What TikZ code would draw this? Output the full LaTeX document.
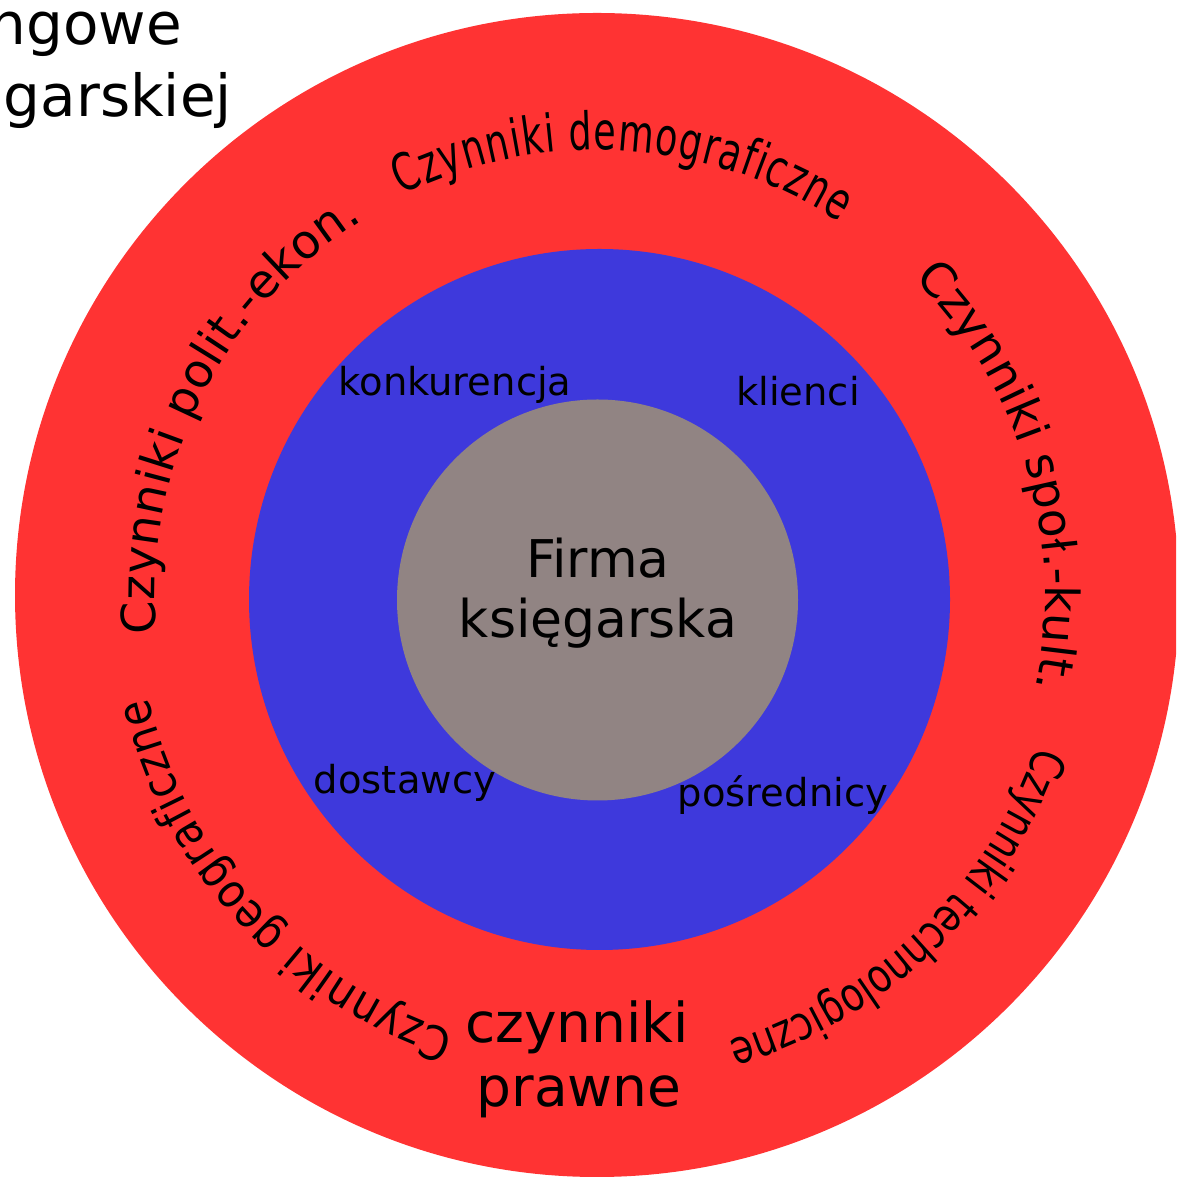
\documentclass[tikz,border=0pt]{standalone}
\usepackage{fontspec}
\setmainfont{DejaVu Sans}
\newfontfamily\demofont[FakeStretch=0.70]{DejaVu Sans}
\newfontfamily\technofont[FakeStretch=0.78]{DejaVu Sans}
\newfontfamily\geofont[FakeStretch=0.88]{DejaVu Sans}
\usetikzlibrary{decorations.text}
\definecolor{ringred}{RGB}{255,51,51}
\definecolor{ringblue}{RGB}{62,57,220}
\definecolor{coregrey}{RGB}{145,132,131}
\newcommand{\arcfnt}{\fontsize{47}{50}\selectfont}
\newcommand{\arcfntbig}{\fontsize{52}{56}\selectfont}
\begin{document}
\begin{tikzpicture}[x=1pt,y=1pt,
  disc/.style={circle, inner sep=0pt, minimum size=#1},
  lbl/.style={inner sep=0pt, font=\fontsize{38.5}{44}\selectfont, anchor=base},
  biglbl/.style={inner sep=0pt, font=\fontsize{55}{64}\selectfont, anchor=base},
  titlelbl/.style={inner sep=0pt, font=\fontsize{58}{70}\selectfont, anchor=base east},
  arctext/.style={decorate, decoration={text along path, text align={fit to path}, text={#1}}}]
\useasboundingbox (0,0) rectangle (1176,1180);
\begin{scope}
\clip (0,0) rectangle (1176,1180);
\coordinate (c) at (597,585);
\node[disc=1164pt, fill=ringred] (outer) at (c) {};
\node[disc=701pt, fill=ringblue] (middle) at (599.5,580.5) {};
\node[disc=401pt, fill=coregrey] (core) at (597.5,580) {};

% curved texts in the red ring
\path[arctext={|\demofont\arcfntbig|Czynniki demograficzne}]
  ([shift={(116:445)}]c) arc[start angle=116, end angle=57, radius=445];
\path[arctext={|\arcfnt|Czynniki społ.-kult.}]
  ([shift={(45:448)}]c) arc[start angle=45, end angle=-12, radius=448];
\path[arctext={|\technofont\arcfnt|Czynniki technologiczne}]
  ([shift={(-19:465)}]c) arc[start angle=-19, end angle=-73, radius=465];
\path[arctext={|\geofont\arcfnt|Czynniki geograficzne}]
  ([shift={(-108:460)}]c) arc[start angle=-108, end angle=-167, radius=460];
\path[arctext={|\arcfnt|Czynniki polit.-ekon.}]
  ([shift={(185:442)}]c) arc[start angle=185, end angle=122, radius=442];

\node[biglbl] (prawne1) at (577,137) {czynniki};
\node[biglbl] (prawne2) at (579,73) {prawne};

% blue ring labels
\node[lbl] (konk) at (455,784) {konkurencja};
\node[lbl] (klien) at (798,774) {klienci};
\node[lbl] (dost) at (405,386) {dostawcy};
\node[lbl] (posr) at (783,373) {pośrednicy};

% core
\node[inner sep=0pt, font=\fontsize{52}{60}\selectfont, anchor=base] (firma1) at (598,602) {Firma};
\node[inner sep=0pt, font=\fontsize{52}{60}\selectfont, anchor=base] (firma2) at (598,542) {księgarska};

% clipped title
\node[titlelbl] (title1) at (182,1135) {ngowe};
\node[titlelbl] (title2) at (232,1063) {garskiej};
\end{scope}
\end{tikzpicture}
\end{document}
